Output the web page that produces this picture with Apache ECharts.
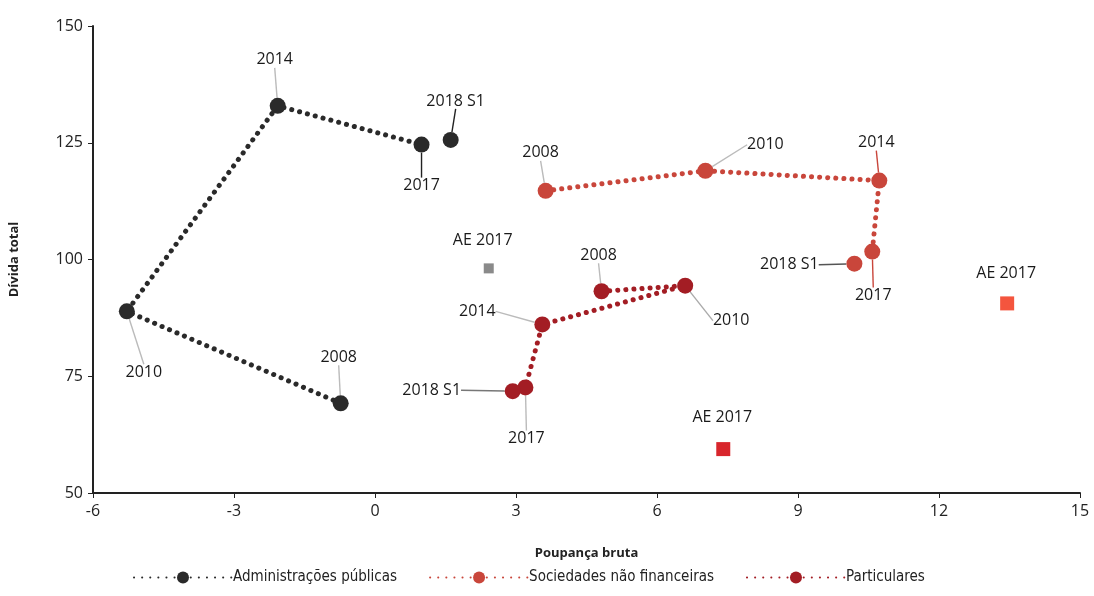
<!DOCTYPE html>
<html><head><meta charset="utf-8">
<script src="https://cdn.jsdelivr.net/npm/echarts@6/dist/echarts.min.js"></script>
<style>html,body{margin:0;padding:0;background:#fff}#c{width:1094px;height:596px}</style>
</head><body><div id="c"></div>
<script>
const periods = ['2008','2010','2014','2017','2018 S1'];
const adminX = [-0.73, -5.28, -2.07, 0.99, 1.61];
const adminY = [69.2, 88.9, 132.9, 124.6, 125.6];
const socX = [3.63, 7.03, 10.73, 10.58, 10.2];
const socY = [114.7, 119.0, 116.9, 101.7, 99.1];
const partX = [4.82, 6.6, 3.56, 3.2, 2.93];
const partY = [93.2, 94.4, 86.1, 72.6, 71.8];
const aeLabel = 'AE 2017';
const aeX = [2.42, 7.41, 13.45];
const aeY = [98.1, 59.4, 90.6];
const xTicks = [-6, -3, 0, 3, 6, 9, 12, 15];
const yTicks = [50, 75, 100, 125, 150];

// label offsets (dx, dy in px) per point, and leader-line colours
const adminOff = [[-2,-46],[17,61],[-3,-46],[0,41],[5,-39]];
const socOff = [[-5,-38],[60,-26],[-3,-38],[1,44],[-65,1]];
const partOff = [[-3,-36],[46,35],[-65,-13],[1,51],[-81,-1]];
const aeOff = [[-6,-28],[-1,-32],[-1,-30]];
const adminLeader = ['#bbb','#bbb','#bbb','#222','#222'];
const socLeader = ['#bbb','#bbb','#c9463b','#c9463b','#555'];
const partLeader = ['#bbb','#aaa','#bbb','#bbb','#777'];

const COL_ADMIN = '#2a2a2a', COL_SOC = '#c9463b', COL_PART = '#a31d24';
const AE_COLS = ['#8a8a8a', '#d8262c', '#f4553e'];
const FONT = 'Open Sans';

function lineData(xs, ys, leaders) {
  const d = [];
  const item = i => ({ value: [xs[i], ys[i]], name: periods[i],
    labelLine: { lineStyle: { color: leaders[i] } } });
  for (let i = 0; i < 4; i++) d.push(item(i));
  d.push('-');
  d.push(item(4));
  return d;
}
function offIndex(params) {
  return params.dataIndex > 4 ? params.dataIndex - 1 : params.dataIndex;
}
function mkSeries(name, xs, ys, col, offs, leaders) {
  return {
    name: name, type: 'line', data: lineData(xs, ys, leaders),
    connectNulls: false,
    symbol: 'circle', symbolSize: 16,
    itemStyle: { color: col },
    lineStyle: { color: col, type: [0.1, 8], cap: 'round', width: 5 },
    label: { show: true, position: 'inside', formatter: p => p.name,
      color: '#1a1a1a', fontFamily: FONT, fontSize: 16 },
    labelLine: { show: true, lineStyle: { width: 1.4 } },
    labelLayout: p => { const o = offs[offIndex(p)]; return { dx: o[0], dy: o[1] }; },
    z: 3
  };
}

const series = [
  mkSeries('Administrações públicas', adminX, adminY, COL_ADMIN, adminOff, adminLeader),
  mkSeries('Sociedades não financeiras', socX, socY, COL_SOC, socOff, socLeader),
  mkSeries('Particulares', partX, partY, COL_PART, partOff, partLeader),
  {
    name: 'AE', type: 'scatter', symbol: 'rect',
    data: aeX.map((x, i) => ({ value: [x, aeY[i]], symbolSize: i === 0 ? 10 : 14, itemStyle: { color: AE_COLS[i], opacity: 1 } })),
    label: { show: true, position: 'inside', formatter: aeLabel, color: '#1a1a1a', fontFamily: FONT, fontSize: 16 },
    labelLayout: p => ({ dx: aeOff[p.dataIndex][0], dy: aeOff[p.dataIndex][1] }),
    z: 2
  }
];

const chart = echarts.init(document.getElementById('c'));
chart.setOption({
  animation: false,
  grid: { left: 92, right: 14, top: 26, bottom: 103, containLabel: false },
  legend: {
    data: ['Administrações públicas', 'Sociedades não financeiras', 'Particulares'],
    bottom: 6, left: 128, itemGap: 32, itemWidth: 98, itemHeight: 15,
    textStyle: { fontFamily: 'DejaVu Sans Condensed', fontSize: 15, color: '#222', padding: [0, 0, 0, -4] }
  },
  xAxis: {
    type: 'value', min: -6, max: 15, interval: 3,
    name: 'Poupança bruta', nameLocation: 'middle', nameGap: 54,
    nameTextStyle: { fontFamily: FONT, fontWeight: 'bold', fontSize: 13, color: '#222' },
    axisLine: { show: true, onZero: false, lineStyle: { color: '#222', width: 2 } },
    axisTick: { show: true, length: 5, lineStyle: { color: '#222' } },
    axisLabel: { fontFamily: FONT, fontSize: 16, color: '#222', margin: 10,
      formatter: v => xTicks.includes(v) ? String(v) : '' },
    splitLine: { show: false }
  },
  yAxis: {
    type: 'value', min: 50, max: 150, interval: 25,
    name: 'Dívida total', nameLocation: 'middle', nameGap: 72, nameRotate: 90,
    nameTextStyle: { fontFamily: FONT, fontWeight: 'bold', fontSize: 13, color: '#222' },
    axisLine: { show: true, onZero: false, lineStyle: { color: '#222', width: 2 } },
    axisTick: { show: true, length: 5, lineStyle: { color: '#222' } },
    axisLabel: { fontFamily: FONT, fontSize: 16, color: '#222', margin: 10,
      formatter: v => yTicks.includes(v) ? String(v) : '' },
    splitLine: { show: false }
  },
  series: series
});
</script>
</body></html>
